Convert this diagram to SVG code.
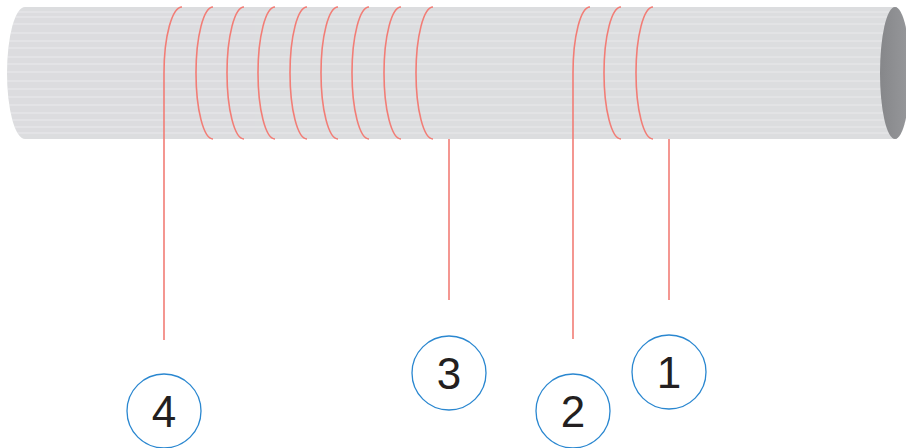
<svg xmlns="http://www.w3.org/2000/svg" width="906" height="448" viewBox="0 0 906 448">
  <style>
    .wire { fill: none; stroke: #f27d76; stroke-width: 1.6; }
    .badge circle { fill: #ffffff; stroke: #2a87d0; stroke-width: 1.3; }
    .badge text { font-family: "Liberation Sans", Arial, sans-serif; font-size: 44px; fill: #231f20; text-anchor: middle; }
    .streak { stroke: #ffffff; stroke-width: 1; }
  </style>
  <defs>
    <clipPath id="bodyClip">
      <path d="M25,7 L897,7 L897,139 L25,139 A18,66 0 0 1 25,7 Z"/>
    </clipPath>
    <linearGradient id="endFace" x1="0" y1="0" x2="1" y2="0">
      <stop offset="0" stop-color="#86878a"/>
      <stop offset="1" stop-color="#97989b"/>
    </linearGradient>
    <!-- one winding of the coil: top, sweep left, down to the bottom -->
    <path id="turn" d="M17,7 A17,66 0 0 0 17,139"/>
  </defs>

  <!-- cylinder body -->
  <g id="cylinder">
    <path d="M25,7 L897,7 L897,139 L25,139 A18,66 0 0 1 25,7 Z" fill="#dcdddf"/>
    <g clip-path="url(#bodyClip)" opacity="0.4">
      <line class="streak" x1="0" y1="12" x2="906" y2="12"/>
      <line class="streak" x1="0" y1="17" x2="906" y2="17"/>
      <line class="streak" x1="0" y1="24" x2="906" y2="24"/>
      <line class="streak" x1="0" y1="33" x2="906" y2="33"/>
      <line class="streak" x1="0" y1="41" x2="906" y2="41"/>
      <line class="streak" x1="0" y1="48" x2="906" y2="48"/>
      <line class="streak" x1="0" y1="57" x2="906" y2="57"/>
      <line class="streak" x1="0" y1="64" x2="906" y2="64"/>
      <line class="streak" x1="0" y1="72" x2="906" y2="72"/>
      <line class="streak" x1="0" y1="81" x2="906" y2="81"/>
      <line class="streak" x1="0" y1="89" x2="906" y2="89"/>
      <line class="streak" x1="0" y1="97" x2="906" y2="97"/>
      <line class="streak" x1="0" y1="105" x2="906" y2="105"/>
      <line class="streak" x1="0" y1="113" x2="906" y2="113"/>
      <line class="streak" x1="0" y1="120" x2="906" y2="120"/>
      <line class="streak" x1="0" y1="127" x2="906" y2="127"/>
      <line class="streak" x1="0" y1="133" x2="906" y2="133"/>
    </g>
    <ellipse cx="895" cy="73" rx="15" ry="66" fill="url(#endFace)"/>
  </g>

  <!-- coil windings and leads -->
  <g id="connectors">
    <!-- left coil, lead 4 starts it -->
    <path class="wire" d="M182,7 A18,66 0 0 0 164,73 L164,340"/>
    <use href="#turn" class="wire" x="196"/>
    <use href="#turn" class="wire" x="227"/>
    <use href="#turn" class="wire" x="258"/>
    <use href="#turn" class="wire" x="290"/>
    <use href="#turn" class="wire" x="321"/>
    <use href="#turn" class="wire" x="352"/>
    <use href="#turn" class="wire" x="384"/>
    <use href="#turn" class="wire" x="416"/>
    <line class="wire" x1="449" y1="139" x2="449" y2="300"/>
    <!-- right coil, lead 2 starts it -->
    <path class="wire" d="M590,7 A17,66 0 0 0 573,73 L573,339"/>
    <use href="#turn" class="wire" x="604"/>
    <use href="#turn" class="wire" x="636"/>
    <line class="wire" x1="669" y1="139" x2="669" y2="300"/>
  </g>

  <g id="label-1" class="badge">
    <circle cx="669" cy="372" r="37"/>
    <text x="669" y="388">1</text>
  </g>
  <g id="label-2" class="badge">
    <circle cx="573" cy="411" r="37"/>
    <text x="573" y="427">2</text>
  </g>
  <g id="label-3" class="badge">
    <circle cx="449" cy="373" r="37"/>
    <text x="449" y="389">3</text>
  </g>
  <g id="label-4" class="badge">
    <circle cx="164" cy="411" r="37"/>
    <text x="164" y="427">4</text>
  </g>
</svg>
